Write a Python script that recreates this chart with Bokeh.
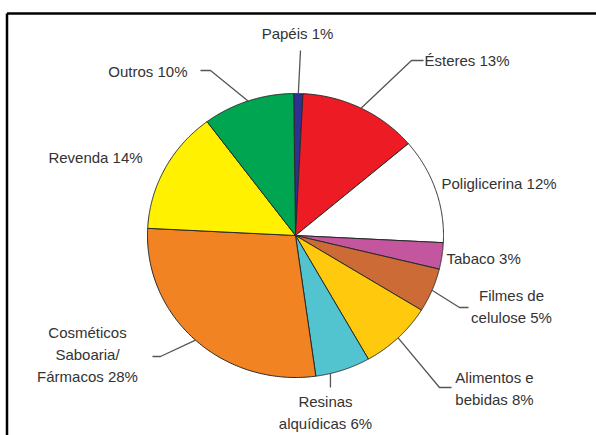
import numpy as np
from bokeh.plotting import figure
from bokeh.models import Range1d
from bokeh.core.properties import value
from bokeh.embed import file_html
from bokeh.resources import INLINE

# ---- data ----
categories = ["Papéis", "Ésteres", "Poliglicerina", "Tabaco", "Filmes de celulose",
              "Alimentos e bebidas", "Resinas alquídicas", "Cosméticos Saboaria/ Fármacos",
              "Revenda", "Outros"]
shares = [1, 13, 12, 3, 5, 8, 6, 28, 14, 10]
label_lines = [["Papéis 1%"], ["Ésteres 13%"], ["Poliglicerina 12%"], ["Tabaco 3%"],
               ["Filmes de", "celulose 5%"], ["Alimentos e", "bebidas 8%"],
               ["Resinas", "alquídicas 6%"], ["Cosméticos", "Saboaria/", "Fármacos 28%"],
               ["Revenda 14%"], ["Outros 10%"]]
colors = ["#2E3192", "#ED1C24", "#FFFFFF", "#C4559F", "#CC6B36",
          "#FFC90E", "#52C4CF", "#F28322", "#FFF100", "#00A551"]

# ---- layout (screen-like coordinates, y downwards) ----
W, H = 596, 435
CX, CY, RX, RY = 295.0, 235.0, 148.0, 142.0
START = -0.7  # degrees clockwise from 12 o'clock

# label anchor: (x, y of first line, align)
label_pos = {
    0: (297, 33, "center"),
    1: (424, 60, "left"),
    2: (441, 183, "left"),
    3: (446, 258, "left"),
    4: (511, 295, "center"),
    5: (494, 377, "center"),
    6: (325, 401, "center"),
    7: (87, 332, "center"),
    8: (95, 157, "center"),
    9: (187, 70.5, "right"),
}
LINE_GAP = 22
# leader: index -> (percent position on rim, list of elbow/end points)
leaders = {
    0: (None, [(300, 50)]),
    1: (None, [(411, 60), (423, 60)]),
    9: (None, [(210, 70), (200, 70)]),
    4: (None, [(459, 307), (468, 307)]),
    5: (None, [(439, 387), (451, 387)]),
    6: (46.4, [(None, 387)]),
    7: (None, [(160, 356), (152, 356)]),
}

p = figure(width=W, height=H, output_backend="svg", toolbar_location=None,
           x_range=Range1d(0, W), y_range=Range1d(H, 0), min_border=0)
p.axis.visible = False
p.grid.visible = False
p.outline_line_color = None
p.background_fill_color = "white"

def rim(deg):
    t = np.radians(deg)
    return CX + RX * np.sin(t), CY - RY * np.cos(t)

total = float(sum(shares))
cum = np.concatenate([[0], np.cumsum(shares)]) / total * 360.0 + START
xs, ys = [], []
for i in range(len(shares)):
    a = np.linspace(cum[i], cum[i + 1], 120)
    px, py = rim(a)
    xs.append([CX] + list(px) + [CX])
    ys.append([CY] + list(py) + [CY])
p.patches(xs, ys, fill_color=colors, line_color="#2a2a2a", line_width=1)

# leaders
for i, (pct, pts) in leaders.items():
    if pct is None:
        deg = (cum[i] + cum[i + 1]) / 2
    else:
        deg = pct / 100 * 360 + START
    x0, y0 = rim(deg)
    lx, ly = [x0], [y0]
    for (x, y) in pts:
        lx.append(x0 if x is None else x)
        ly.append(y)
    p.line(lx, ly, line_color="#555555", line_width=1.3)

# labels
for i, lines in enumerate(label_lines):
    x, y, align = label_pos[i]
    for k, t in enumerate(lines):
        p.text([x], [y + k * LINE_GAP], text=[t], text_align=align, text_baseline="middle",
               text_font=value("Liberation Sans"), text_font_size="15px",
               text_color="#333333")

# frame (left and top edges)
p.line([6.5, 6.5], [13, H], line_color="black", line_width=2.5)
p.line([6.5, W], [13, 13], line_color="black", line_width=2.5)

open("out.html", "w").write(file_html(p, INLINE))
